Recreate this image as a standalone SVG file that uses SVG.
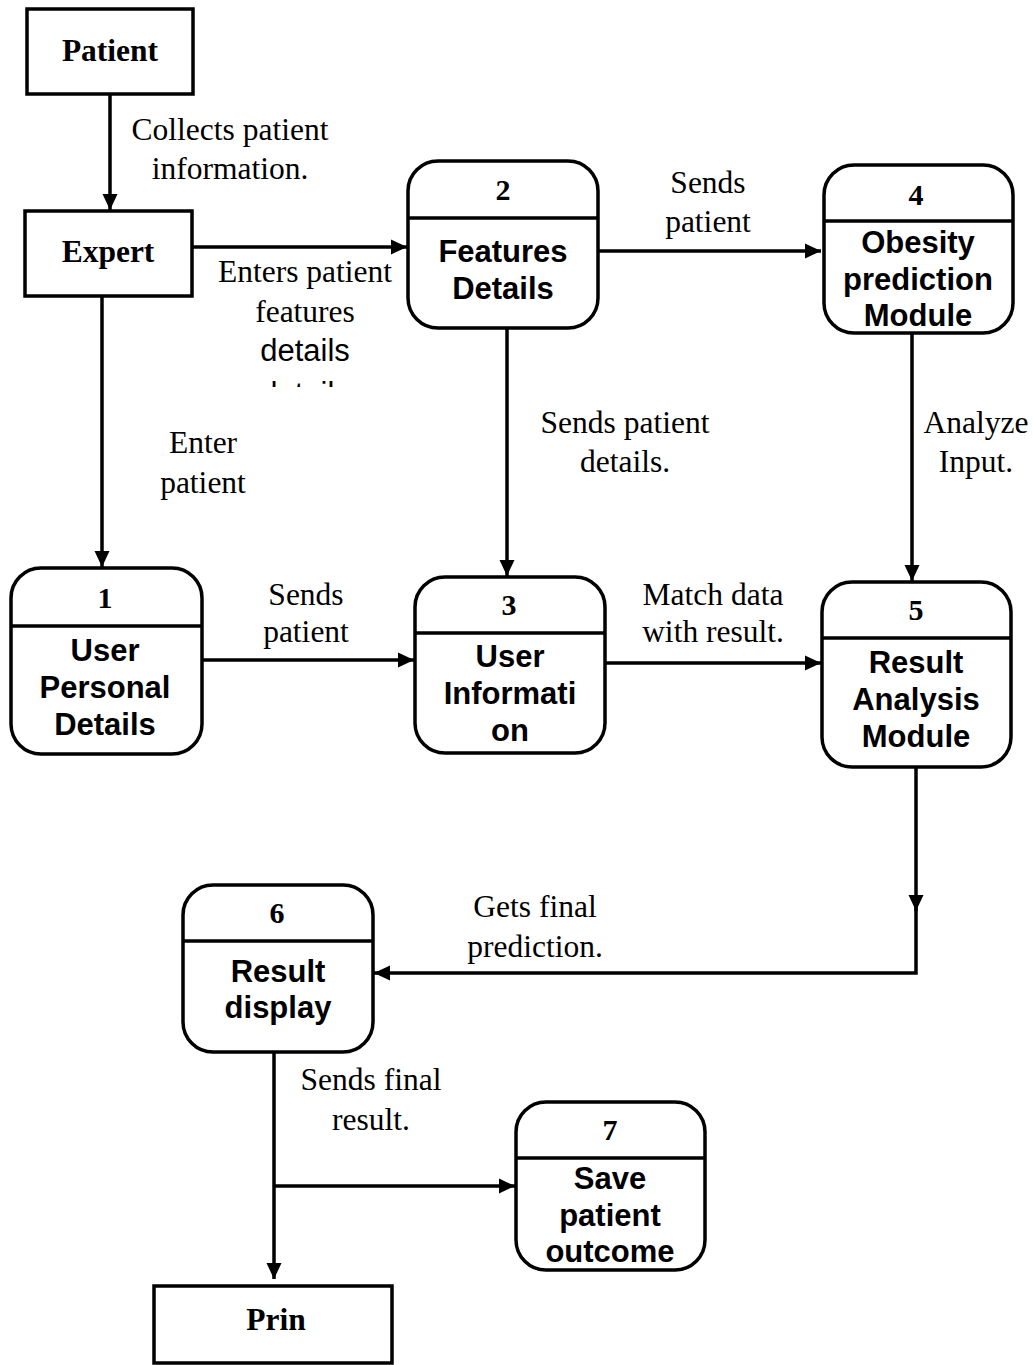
<svg xmlns="http://www.w3.org/2000/svg" width="1033" height="1365" viewBox="0 0 1033 1365">
<style>
.box{fill:#fff;stroke:#000;stroke-width:3.5}
.div{stroke:#000;stroke-width:3.5}
.ln{fill:none;stroke:#000;stroke-width:3.5}
.lbl{font-family:"Liberation Serif","Times New Roman",serif;font-size:31.5px;fill:#000;text-anchor:middle}
.ent{font-family:"Liberation Serif","Times New Roman",serif;font-size:31.5px;font-weight:bold;fill:#000;text-anchor:middle}
.num{font-family:"Liberation Serif","Times New Roman",serif;font-size:30px;font-weight:bold;fill:#000;text-anchor:middle}
.nm{font-family:"Liberation Sans",Arial,sans-serif;font-size:31px;font-weight:bold;fill:#000;text-anchor:middle}
.sans{font-family:"Liberation Sans",Arial,sans-serif;font-size:31px;fill:#000;text-anchor:middle}
</style>
<defs>
<marker id="ah" markerUnits="userSpaceOnUse" markerWidth="18" markerHeight="18" viewBox="0 0 18 18" refX="16" refY="9" orient="auto">
<path d="M0 1.5 L16 9 L0 16.5 Z" fill="#000"/>
</marker>
<clipPath id="clipDet"><rect x="200" y="300" width="220" height="87"/></clipPath>
</defs>

<g id="connectors">
<path class="ln" d="M110 94 V210" marker-end="url(#ah)"/>
<path class="ln" d="M192 247 H407" marker-end="url(#ah)"/>
<path class="ln" d="M598 251 H821" marker-end="url(#ah)"/>
<path class="ln" d="M102 296 V567" marker-end="url(#ah)"/>
<path class="ln" d="M507 328 V576" marker-end="url(#ah)"/>
<path class="ln" d="M912 334 V581" marker-end="url(#ah)"/>
<path class="ln" d="M202 660 H414" marker-end="url(#ah)"/>
<path class="ln" d="M605 663 H821" marker-end="url(#ah)"/>
<path class="ln" d="M916 767 V911" marker-end="url(#ah)"/>
<path class="ln" d="M916 905 V973 H374" marker-end="url(#ah)"/>
<path class="ln" d="M274 1053 V1279" marker-end="url(#ah)"/>
<path class="ln" d="M274 1186 H515" marker-end="url(#ah)"/>
<text class="lbl" x="230" y="140">Collects patient</text>
<text class="lbl" x="230" y="179">information.</text>
<text class="lbl" x="305" y="282">Enters patient</text>
<text class="lbl" x="305" y="322">features</text>
<text class="sans" x="305" y="361">details</text>
<text class="sans" x="305" y="404" clip-path="url(#clipDet)">details</text>
<text class="lbl" x="708" y="193">Sends</text>
<text class="lbl" x="708" y="232">patient</text>
<text class="lbl" x="203" y="453">Enter</text>
<text class="lbl" x="203" y="493">patient</text>
<text class="lbl" x="625" y="433">Sends patient</text>
<text class="lbl" x="625" y="472">details.</text>
<text class="lbl" x="976" y="433">Analyze</text>
<text class="lbl" x="976" y="472">Input.</text>
<text class="lbl" x="306" y="605">Sends</text>
<text class="lbl" x="306" y="642">patient</text>
<text class="lbl" x="713" y="605">Match data</text>
<text class="lbl" x="713" y="642">with result.</text>
<text class="lbl" x="535" y="917">Gets final</text>
<text class="lbl" x="535" y="957">prediction.</text>
<text class="lbl" x="371" y="1090">Sends final</text>
<text class="lbl" x="371" y="1130">result.</text>
</g>

<g id="patient">
<rect class="box" x="27" y="9" width="166" height="85"/>
<text class="ent" x="110" y="61">Patient</text>
</g>
<g id="expert">
<rect class="box" x="25" y="211" width="167" height="85"/>
<text class="ent" x="108" y="262">Expert</text>
</g>
<g id="node2">
<rect class="box" x="408" y="161" width="190" height="167" rx="30"/>
<line class="div" x1="408" y1="218" x2="598" y2="218"/>
<text class="num" x="503" y="200">2</text>
<text class="nm" x="503" y="262">Features</text>
<text class="nm" x="503" y="299">Details</text>
</g>
<g id="node4">
<rect class="box" x="824" y="165" width="189" height="168" rx="30"/>
<line class="div" x1="824" y1="221" x2="1013" y2="221"/>
<text class="num" x="916" y="205">4</text>
<text class="nm" x="918" y="253">Obesity</text>
<text class="nm" x="918" y="290">prediction</text>
<text class="nm" x="918" y="326">Module</text>
</g>
<g id="node1">
<rect class="box" x="11" y="568" width="191" height="186" rx="30"/>
<line class="div" x1="11" y1="626" x2="202" y2="626"/>
<text class="num" x="105" y="608">1</text>
<text class="nm" x="105" y="661">User</text>
<text class="nm" x="105" y="698">Personal</text>
<text class="nm" x="105" y="735">Details</text>
</g>
<g id="node3">
<rect class="box" x="415" y="577" width="190" height="176" rx="30"/>
<line class="div" x1="415" y1="633" x2="605" y2="633"/>
<text class="num" x="509" y="615">3</text>
<text class="nm" x="510" y="667">User</text>
<text class="nm" x="510" y="704">Informati</text>
<text class="nm" x="510" y="741">on</text>
</g>
<g id="node5">
<rect class="box" x="822" y="582" width="189" height="185" rx="30"/>
<line class="div" x1="822" y1="638" x2="1011" y2="638"/>
<text class="num" x="916" y="620">5</text>
<text class="nm" x="916" y="673">Result</text>
<text class="nm" x="916" y="710">Analysis</text>
<text class="nm" x="916" y="747">Module</text>
</g>
<g id="node6">
<rect class="box" x="183" y="885" width="190" height="167" rx="30"/>
<line class="div" x1="183" y1="941" x2="373" y2="941"/>
<text class="num" x="277" y="923">6</text>
<text class="nm" x="278" y="982">Result</text>
<text class="nm" x="278" y="1018">display</text>
</g>
<g id="node7">
<rect class="box" x="516" y="1102" width="189" height="168" rx="30"/>
<line class="div" x1="516" y1="1158" x2="705" y2="1158"/>
<text class="num" x="610" y="1140">7</text>
<text class="nm" x="610" y="1189">Save</text>
<text class="nm" x="610" y="1226">patient</text>
<text class="nm" x="610" y="1262">outcome</text>
</g>
<g id="prin">
<rect class="box" x="154" y="1286" width="238" height="77"/>
<text class="ent" x="276" y="1330">Prin</text>
</g>
</svg>
